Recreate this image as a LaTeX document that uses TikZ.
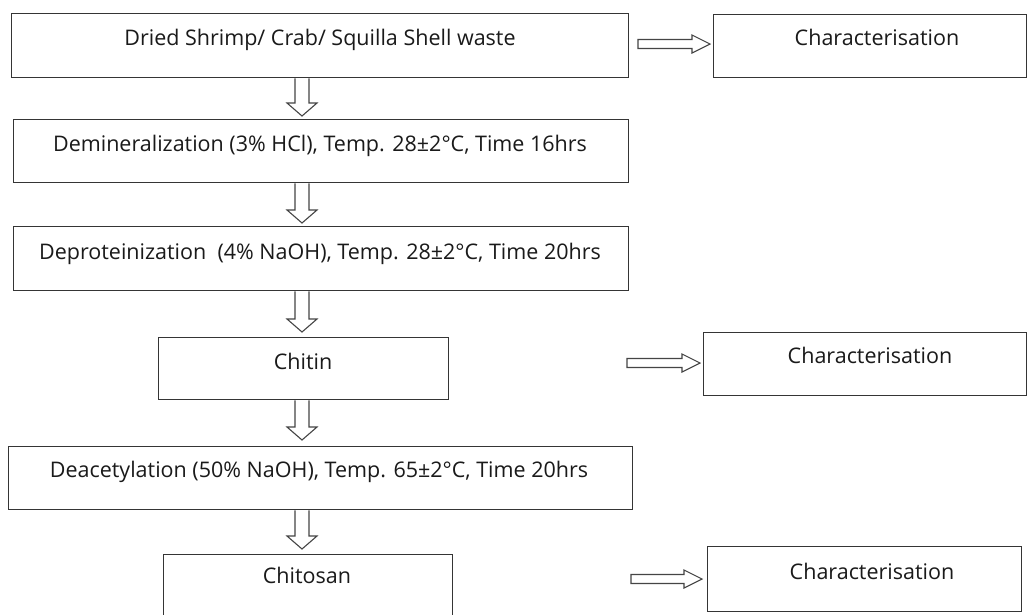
\documentclass[tikz,border=0pt]{standalone}
\usepackage{fontspec}
\setmainfont{Open Sans}
\usetikzlibrary{calc}
\definecolor{boxc}{HTML}{353535}
\definecolor{txtc}{HTML}{1A1A1A}
\definecolor{arrc}{HTML}{454545}
\newcommand\downblk[2]{\draw[blk] let \p1=(#1), \p2=(#2) in (\x1-7pt,\y1) -- (\x1-7pt,\y2+13pt) -- (\x1-15pt,\y2+13pt) -- (\x1,\y2) -- (\x1+15pt,\y2+13pt) -- (\x1+7pt,\y2+13pt) -- (\x1+7pt,\y1);}
\newcommand\rightblk[2]{\draw[blk] let \p1=(#1), \p2=(#2) in (\x1,\y1+4.5pt) -- (\x2-18pt,\y1+4.5pt) -- (\x2-18pt,\y1+9pt) -- (\x2,\y1) -- (\x2-18pt,\y1-9pt) -- (\x2-18pt,\y1-4.5pt) -- (\x1,\y1-4.5pt) -- cycle;}
\begin{document}
\begin{tikzpicture}[x=1pt,y=-1pt,
  box/.style={draw=boxc, line width=1.3pt, inner sep=0pt, anchor=north west},
  lbl/.style={font=\fontsize{21.5}{24}\selectfont, text=txtc, inner sep=0pt, text height=17pt, text depth=2pt, anchor=center},
  blk/.style={draw=arrc, line width=1.1pt, fill=white, line join=miter}]
\useasboundingbox (0,0) rectangle (1027,614);
\clip (0,0) rectangle (1027,614);
\fill[white] (0,0) rectangle (1027,614);
% boxes
\node[box, minimum width=617pt, minimum height=64pt] (b1) at (11,13) {};
\node[box, minimum width=615pt, minimum height=63pt] (b2) at (13,119) {};
\node[box, minimum width=615pt, minimum height=64pt] (b3) at (13,226) {};
\node[box, minimum width=290pt, minimum height=62pt] (b4) at (158,337) {};
\node[box, minimum width=624pt, minimum height=63pt] (b5) at (8,446) {};
\node[box, minimum width=289pt, minimum height=64pt] (b6) at (163,554) {};
\node[box, minimum width=313pt, minimum height=63pt] (c1) at (713,14) {};
\node[box, minimum width=323pt, minimum height=63pt] (c2) at (703,332) {};
\node[box, minimum width=314pt, minimum height=65pt] (c3) at (707,546) {};
% texts
\node[lbl] (t1) at (320,38) {Dried Shrimp/ Crab/ Squilla Shell waste};
\node[lbl] (t2) at (320,144) {Demineralization (3\% HCl), Temp. 28±2°C, Time 16hrs};
\node[lbl] (t3) at (320,252) {Deproteinization\ \ (4\% NaOH), Temp. 28±2°C, Time 20hrs};
\node[lbl] (t4) at (303,362) {Chitin};
\node[lbl] (t5) at (319,470) {Deacetylation (50\% NaOH), Temp. 65±2°C, Time 20hrs};
\node[lbl] (t6) at (307,576) {Chitosan};
\node[lbl] (tc1) at (877,38) {Characterisation};
\node[lbl] (tc2) at (870,356) {Characterisation};
\node[lbl] (tc3) at (872,572) {Characterisation};
% down arrows
\coordinate (ax) at (302,0);
\downblk{ax |- b1.south}{$(ax |- b2.north)+(0,-3)$}
\downblk{ax |- b2.south}{$(ax |- b3.north)+(0,-3)$}
\downblk{ax |- b3.south}{$(ax |- b4.north)+(0,-5)$}
\downblk{ax |- b4.south}{$(ax |- b5.north)+(0,-6)$}
\downblk{ax |- b5.south}{$(ax |- b6.north)+(0,-5)$}
% right arrows
\coordinate (s1) at (638,44);
\coordinate (s2) at (627,363);
\coordinate (s3) at (631,579);
\rightblk{s1}{$(s1 -| c1.west)+(-3,0)$}
\rightblk{s2}{$(s2 -| c2.west)+(-3,0)$}
\rightblk{s3}{$(s3 -| c3.west)+(-5,0)$}
\end{tikzpicture}
\end{document}
